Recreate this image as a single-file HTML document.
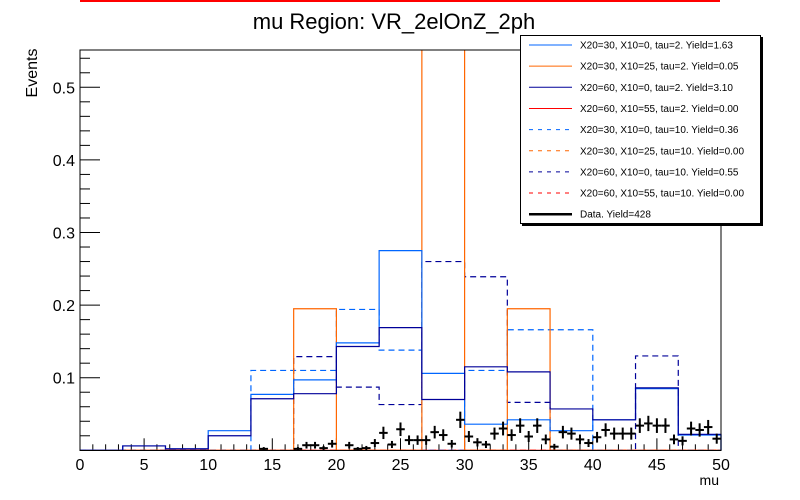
<!DOCTYPE html>
<html><head><meta charset="utf-8">
<style>
body{margin:0;background:#fff;}
svg{display:block;font-family:"Liberation Sans",Arial,sans-serif;}
</style></head>
<body>
<svg id="chart" width="800" height="500" viewBox="0 0 800 500">
<defs><clipPath id="frameclip"><rect x="80" y="50" width="642" height="401"/></clipPath></defs>
<line x1="80" y1="1" x2="720" y2="1" stroke="#ff0000" stroke-width="2"/>
<text x="394" y="29" font-size="22" text-anchor="middle">mu Region: VR_2elOnZ_2ph</text>
<text transform="translate(37,73) rotate(-90)" font-size="16" text-anchor="middle">Events</text>
<text x="719" y="485" font-size="14" text-anchor="end">mu</text>
<g id="axes"></g>
<g id="hists" clip-path="url(#frameclip)"></g>
<g id="datapts"></g>
<rect x="80" y="50" width="641" height="400.5" fill="none" stroke="#000" stroke-width="1"/>
<g id="legend"></g>
</svg>
<script>
// ---- data ----
const xTickLabels = [0,5,10,15,20,25,30,35,40,45,50];
const yTickLabels = [0.1,0.2,0.3,0.4,0.5];
const blueSolid  = [0,0.006,0.002,0.027,0.077,0.097,0.148,0.275,0.106,0.036,0.042,0.027,0.042,0.085,0.021];
const orangeSolid= [0,0,0,0,0,0.195,0,0,0.9,0,0.195,0,0,0,0];
const navySolid  = [0,0.006,0.002,0.020,0.071,0.078,0.143,0.169,0.070,0.115,0.108,0.057,0.042,0.086,0.022];
const redSolid   = [0,0,0,0,0,0,0,0,0,0,0,0,0,0,0];
const blueDashed = [0,0,0,0,0.110,0.110,0.194,0.138,0,0.110,0.166,0.166,0,0,0];
const orangeDashed=[0,0,0,0,0,0,0,0,0,0,0,0,0,0,0];
const navyDashed = [0,0,0,0,0,0.129,0.087,0.063,0.260,0.239,0.066,0,0,0.130,0];
const redDashed  = [0,0,0,0,0,0,0,0,0,0,0,0,0,0,0];
const dataValues = [0,0,0,0,0,0,0,0,0,0,0,0,0,0,0,0,0,0,0,0,0,
 0.002,0,0,0,0.002,0.007,0.007,0.003,0.009,0,0.007,0.002,0.003,0.010,0.024,0.008,0.029,
 0.014,0.014,0.014,0.025,0.021,0.009,0.042,0.019,0.011,0.008,0.023,0.030,0.021,0.034,0.019,0.034,
 0.015,0.005,0.025,0.023,0.015,0.010,0.018,0.028,0.023,0.023,0.023,0.034,0.037,0.034,0.034,0.015,
 0.013,0.030,0.028,0.032,0.016];
const legendLabels = ["X20=30, X10=0, tau=2. Yield=1.63","X20=30, X10=25, tau=2. Yield=0.05",
 "X20=60, X10=0, tau=2. Yield=3.10","X20=60, X10=55, tau=2. Yield=0.00",
 "X20=30, X10=0, tau=10. Yield=0.36","X20=30, X10=25, tau=10. Yield=0.00",
 "X20=60, X10=0, tau=10. Yield=0.55","X20=60, X10=55, tau=10. Yield=0.00","Data. Yield=428"];

// ---- scales ----
const X0=80, X1=721, Y0=450.3, PXPERY=726;
const xs = v => X0 + v*(X1-X0)/50;
const ys = v => Y0 - v*PXPERY;
const NS="http://www.w3.org/2000/svg";
function mk(tag, attrs, parent){const e=document.createElementNS(NS,tag);for(const k in attrs)e.setAttribute(k,attrs[k]);parent.appendChild(e);return e;}

// axes
const axes=document.getElementById('axes');
for(let i=0;i<=50;i++){
  const major = i%5===0;
  const t=mk('line',{x1:xs(i),x2:xs(i),y1:Y0,y2:Y0-(major?12:6),stroke:'#000','stroke-width':1},axes);
  
  
}
xTickLabels.forEach(v=>{
  const t=mk('text',{x:xs(v),y:470,'font-size':16,'text-anchor':'middle'},axes);
  t.textContent=v;
  
  
});
for(let i=1;i<=27;i++){
  const v=i*0.02; const major=i%5===0;
  const t=mk('line',{x1:X0,x2:X0+(major?20:10),y1:ys(v),y2:ys(v),stroke:'#000','stroke-width':1},axes);
  
  
}
yTickLabels.forEach(v=>{
  const t=mk('text',{x:75,y:ys(v)+6,'font-size':16,'text-anchor':'end'},axes);
  t.textContent=v.toFixed(1);
  
  
});

// histograms
const hists=document.getElementById('hists');
function histPath(vals){
  const w=50/vals.length; let d='M'+xs(0)+','+ys(0);
  vals.forEach((v,i)=>{d+=' L'+xs(i*w)+','+ys(v)+' L'+xs((i+1)*w)+','+ys(v);});
  d+=' L'+xs(50)+','+ys(0);
  return d;
}
const series=[
 [orangeDashed,'#ff6600',true,'hist-x20-30-x10-25-tau10'],
 [redDashed,'#ff0000',true,'hist-x20-60-x10-55-tau10'],
 [redSolid,'#ff0000',false,'hist-x20-60-x10-55-tau2'],
 [blueDashed,'#0066ff',true,'hist-x20-30-x10-0-tau10'],
 [navyDashed,'#000099',true,'hist-x20-60-x10-0-tau10'],
 [orangeSolid,'#ff6600',false,'hist-x20-30-x10-25-tau2'],
 [blueSolid,'#0066ff',false,'hist-x20-30-x10-0-tau2'],
 [navySolid,'#000099',false,'hist-x20-60-x10-0-tau2']
];
series.forEach(s=>{
  const p=mk('path',{d:histPath(s[0]),fill:'none',stroke:s[1],'stroke-width':1.2},hists);
  if(s[2])p.setAttribute('stroke-dasharray','6,4');
  
  
});

// data points
const dp=document.getElementById('datapts');
const dw=50/dataValues.length;
dataValues.forEach((v,i)=>{
  if(v<=0)return;
  const cx=xs((i+0.5)*dw), cy=ys(v), err=Math.sqrt(v*0.003)*PXPERY;
  const g=mk('g',{},dp);
  
  
  mk('line',{x1:xs(i*dw),x2:xs((i+1)*dw),y1:cy,y2:cy,stroke:'#000','stroke-width':2},g);
  mk('line',{x1:cx,x2:cx,y1:Math.min(cy+err,Y0),y2:cy-err,stroke:'#000','stroke-width':2},g);
});

// legend
const lg=document.getElementById('legend');
mk('rect',{x:522,y:37,width:241,height:189,fill:'#000'},lg);
mk('rect',{x:520.5,y:35.5,width:240,height:188,fill:'#fff',stroke:'#000','stroke-width':1},lg);
const legStyles=[['#0066ff',false,1],['#ff6600',false,1],['#000099',false,1],['#ff0000',false,1],
 ['#0066ff',true,1],['#ff6600',true,1],['#000099',true,1],['#ff0000',true,1],['#000',false,2.5]];
legendLabels.forEach((lab,i)=>{
  const y=45+i*21.15;
  const g=mk('g',{},lg);
  
  
  const l=mk('line',{x1:529,x2:572,y1:y,y2:y,stroke:legStyles[i][0],'stroke-width':legStyles[i][2]},g);
  if(legStyles[i][1])l.setAttribute('stroke-dasharray','4,5');
  const t=mk('text',{x:580,y:y+3.5,'font-size':10},g);
  t.textContent=lab;
});
</script>
</body></html>
